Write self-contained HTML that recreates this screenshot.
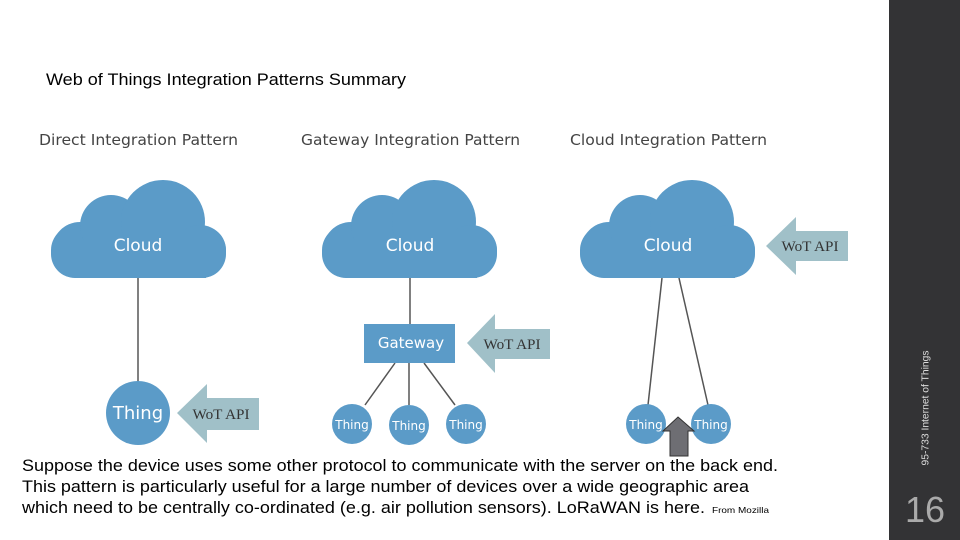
<!DOCTYPE html>
<html><head><meta charset="utf-8"><style>
html,body{margin:0;padding:0;background:#fff;}
</style></head><body>
<svg width="960" height="540" viewBox="0 0 960 540" xmlns="http://www.w3.org/2000/svg" style="display:block">
<defs>
<g id="cl">
<rect x="0" y="226" width="175" height="52" rx="24" fill="#5b9bc8"/>
<circle cx="29" cy="250" r="28" fill="#5b9bc8"/>
<circle cx="60" cy="226" r="31" fill="#5b9bc8"/>
<circle cx="112" cy="222" r="42" fill="#5b9bc8"/>
<circle cx="149" cy="251" r="26" fill="#5b9bc8"/>
<rect x="25" y="240" width="130" height="38" fill="#5b9bc8"/>
</g>
</defs>
<rect x="889" y="0" width="71" height="540" fill="#333335"/>
<text x="926" y="408" transform="rotate(-90 926 408)" text-anchor="middle" dominant-baseline="middle" font-family="Liberation Sans, sans-serif" font-size="10" fill="#ddd" textLength="115" lengthAdjust="spacingAndGlyphs">95-733 Internet of Things</text>
<text x="925" y="522" text-anchor="middle" font-family="Liberation Sans, sans-serif" font-size="36" fill="#aaa">16</text>

<text x="46" y="85" font-family="Liberation Sans, sans-serif" font-size="17" fill="#000" textLength="360" lengthAdjust="spacingAndGlyphs">Web of Things Integration Patterns Summary</text>

<g font-family="DejaVu Sans, sans-serif" font-size="15.5" fill="#444">
<text x="39" y="145" textLength="199" lengthAdjust="spacingAndGlyphs">Direct Integration Pattern</text>
<text x="301" y="145" textLength="219" lengthAdjust="spacingAndGlyphs">Gateway Integration Pattern</text>
<text x="570" y="145" textLength="197" lengthAdjust="spacingAndGlyphs">Cloud Integration Pattern</text>
</g>

<g stroke="#555" stroke-width="1.5" fill="none">
<line x1="138" y1="278" x2="138" y2="384"/>
<line x1="410" y1="278" x2="410" y2="324"/>
<line x1="395" y1="363" x2="365" y2="405"/>
<line x1="409" y1="363" x2="409" y2="405"/>
<line x1="424" y1="363" x2="455" y2="405"/>
<line x1="662" y1="278" x2="648" y2="405"/>
<line x1="679" y1="278" x2="708" y2="405"/>
</g>

<use href="#cl" x="51"/>
<use href="#cl" x="322"/>
<use href="#cl" x="580"/>

<g fill="#5b9bc8">
<circle cx="138" cy="413" r="32"/>
<rect x="364" y="324" width="91" height="39"/>
<circle cx="352" cy="424" r="20"/>
<circle cx="409" cy="425" r="20"/>
<circle cx="466" cy="424" r="20"/>
<circle cx="646" cy="424" r="20"/>
<circle cx="711" cy="424" r="20"/>
</g>

<g font-family="DejaVu Sans, sans-serif" fill="#fff" text-anchor="middle">
<text x="138" y="251" font-size="17">Cloud</text>
<text x="410" y="251" font-size="17">Cloud</text>
<text x="668" y="251" font-size="17">Cloud</text>
<text x="138" y="419" font-size="18">Thing</text>
<text x="411" y="348" font-size="15">Gateway</text>
<text x="352" y="429" font-size="12">Thing</text>
<text x="409" y="430" font-size="12">Thing</text>
<text x="466" y="429" font-size="12">Thing</text>
<text x="646" y="429" font-size="12">Thing</text>
<text x="711" y="429" font-size="12">Thing</text>
</g>

<g fill="#a0c0c8">
<polygon points="177,413 207,384 207,398 259,398 259,430 207,430 207,443"/>
<polygon points="467,343 495,314 495,329 550,329 550,359 495,359 495,373"/>
<polygon points="766,246 796,217 796,231 848,231 848,261 796,261 796,275"/>
</g>
<g font-family="Liberation Serif, serif" font-size="15" fill="#333" text-anchor="middle">
<text x="221" y="419" textLength="57" lengthAdjust="spacingAndGlyphs">WoT API</text>
<text x="512" y="349" textLength="57" lengthAdjust="spacingAndGlyphs">WoT API</text>
<text x="810" y="251" textLength="57" lengthAdjust="spacingAndGlyphs">WoT API</text>
</g>

<polygon points="678,417 694,431 688,431 688,456 670,456 670,431 663,431" fill="#6e6e73" stroke="#333" stroke-width="1"/>

<g font-family="Liberation Sans, sans-serif" font-size="16.5" fill="#000">
<text x="22" y="471" textLength="756" lengthAdjust="spacingAndGlyphs">Suppose the device uses some other protocol to communicate with the server on the back end.</text>
<text x="22" y="492" textLength="727" lengthAdjust="spacingAndGlyphs">This pattern is particularly useful for a large number of devices over a wide geographic area</text>
<text x="22" y="513" textLength="683" lengthAdjust="spacingAndGlyphs">which need to be centrally co-ordinated (e.g. air pollution sensors). LoRaWAN is here.</text>
<text x="712" y="513" font-size="8.5" textLength="57" lengthAdjust="spacingAndGlyphs">From Mozilla</text>
</g>
</svg>
</body></html>
